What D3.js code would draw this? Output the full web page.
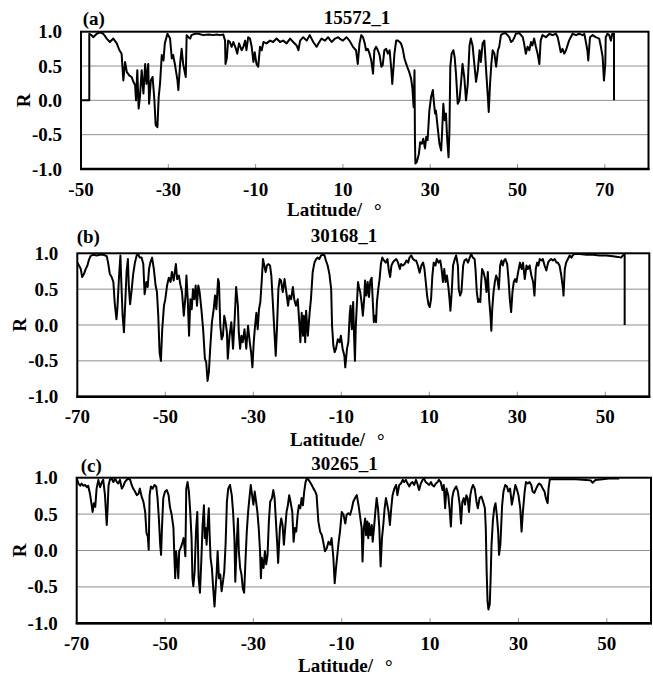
<!DOCTYPE html>
<html>
<head>
<meta charset="utf-8">
<script src="https://cdn.jsdelivr.net/npm/d3@7"></script>
<style>
body { margin: 0; background: #fff; }
text { font-family: "Liberation Serif", "Times New Roman", serif; font-weight: bold; font-size: 19px; fill: #000; }
</style>
</head>
<body>
<svg id="chart" width="653" height="677"></svg>
<script>

// [latitude, R]
var seriesA = [
    [-50,0],[-48.1,0],[-48.1,0.97],[-47.6,0.95],[-47.2,0.92],[-46.4,0.97],[-45.6,0.99],[-44.9,0.97],[-44.1,0.90],[-43.4,0.85],
    [-42.6,0.90],[-41.8,0.83],[-41.2,0.73],[-40.7,0.68],[-40.3,0.29],[-39.9,0.56],[-39.5,0.41],[-38.9,0.36],[-38.4,0.34],[-38.0,0.27],
    [-37.6,0.22],[-37.4,0.0],[-37.1,0.44],[-36.8,-0.12],[-36.5,0.05],[-36.1,0.44],[-35.7,0.10],[-35.3,0.53],[-35.0,0.24],[-34.6,0.53],
    [-34.4,-0.05],[-34.0,0.29],[-33.6,0.34],[-33.2,0.02],[-32.9,-0.36],[-32.5,-0.39],[-32.2,0.05],[-31.9,0.24],[-31.5,0.66],[-31.1,0.58],
    [-30.8,0.83],[-30.2,0.97],[-29.6,0.90],[-29.2,0.61],[-28.9,0.66],[-28.5,0.53],[-27.9,0.29],[-27.7,0.15],[-27.3,0.53],[-26.95,0.75],
    [-26.6,0.53],[-26.0,0.34],[-25.8,0.95],[-25.4,0.92],[-25.0,0.90],[-24.7,0.95],[-23.9,0.97],[-23.1,0.97],[-22.0,0.95],[-20.8,0.96],
    [-19.7,0.95],[-18.9,0.96],[-18.2,0.95],[-17.4,0.96],[-17.0,0.87],[-16.9,0.53],[-16.6,0.61],[-16.3,0.87],[-15.9,0.85],[-15.5,0.78],
    [-15.1,0.85],[-14.5,0.75],[-14.2,0.68],[-13.8,0.83],[-13.2,0.73],[-12.8,0.78],[-12.4,0.87],[-12.1,0.73],[-11.7,0.92],[-11.3,0.90],
    [-10.9,0.78],[-10.5,0.56],[-10.2,0.70],[-9.8,0.53],[-9.4,0.49],[-9.0,0.78],[-8.6,0.73],[-8.2,0.85],[-7.5,0.83],[-6.7,0.87],
    [-6.0,0.85],[-5.2,0.90],[-4.4,0.85],[-3.7,0.87],[-2.9,0.83],[-2.1,0.90],[-1.4,0.85],[-0.6,0.80],[-0.2,0.73],[0.2,0.87],
    [0.9,0.92],[1.7,0.87],[2.4,0.95],[3.2,0.85],[4.0,0.78],[4.4,0.83],[5.1,0.90],[5.9,0.87],[6.6,0.92],[7.4,0.85],
    [8.2,0.90],[8.9,0.92],[9.24,0.90],[10.0,0.87],[10.8,0.92],[11.5,0.87],[12.3,0.78],[13.0,0.73],[13.4,0.53],[13.8,0.83],
    [14.2,0.95],[14.6,0.92],[15.0,0.83],[15.3,0.73],[15.7,0.75],[16.1,0.68],[16.5,0.58],[16.9,0.39],[17.2,0.73],[17.6,0.78],
    [18.0,0.73],[18.4,0.66],[18.8,0.49],[19.1,0.51],[19.5,0.73],[19.9,0.75],[20.3,0.68],[20.7,0.73],[21.1,0.44],[21.3,0.24],
    [21.6,0.49],[21.8,0.68],[22.2,0.87],[22.6,0.87],[23.0,0.85],[23.3,0.83],[23.7,0.75],[24.1,0.61],[24.5,0.53],[24.9,0.46],
    [25.2,0.41],[25.6,0.32],[25.9,0.19],[26.2,-0.10],[26.4,0.44],[26.5,-0.58],[26.6,-0.92],[26.9,-0.90],[27.4,-0.78],[27.7,-0.61],
    [28.1,-0.63],[28.4,-0.56],[28.8,-0.70],[29.1,-0.53],[29.4,-0.58],[29.8,-0.15],[30.2,0.05],[30.6,0.15],[30.8,0.0],[31.1,-0.19],
    [31.3,-0.15],[31.7,-0.39],[32.1,-0.63],[32.5,-0.73],[32.7,-0.49],[33.0,-0.05],[33.3,-0.29],[33.6,-0.19],[33.9,-0.58],[34.2,-0.83],
    [34.4,-0.44],[34.6,0.49],[34.9,0.68],[35.3,0.73],[35.6,0.63],[35.9,0.39],[36.3,-0.05],[36.7,0.0],[37.1,0.29],[37.4,0.53],
    [37.8,0.34],[38.2,0.0],[38.6,0.24],[39.0,0.80],[39.3,0.90],[39.7,0.80],[40.1,0.53],[40.5,0.27],[40.9,0.44],[41.3,0.73],
    [41.6,0.56],[42.0,0.83],[42.4,0.87],[42.8,0.44],[43.2,0.05],[43.4,-0.17],[43.7,0.24],[44.0,0.53],[44.3,0.73],[44.7,0.68],
    [45.1,0.49],[45.5,0.73],[45.8,0.78],[46.2,0.95],[46.6,0.97],[47.3,0.98],[48.1,0.92],[48.5,0.85],[48.9,0.87],[49.3,0.92],
    [49.6,0.97],[50.4,0.98],[50.8,0.95],[51.2,0.92],[51.5,0.83],[51.9,0.68],[52.3,0.78],[52.7,0.73],[53.1,0.85],[53.4,0.80],
    [53.8,0.90],[54.2,0.78],[54.6,0.68],[55.0,0.53],[55.3,0.87],[55.7,0.95],[56.5,0.92],[57.3,0.97],[58.0,0.95],[58.8,0.97],
    [59.2,0.92],[59.5,0.83],[59.9,0.70],[60.3,0.75],[60.7,0.68],[61.1,0.73],[61.8,0.87],[62.6,0.97],[63.4,0.95],[64.1,0.97],
    [64.9,0.95],[65.3,0.97],[65.6,0.87],[66.0,0.73],[66.2,0.58],[66.6,0.92],[67.2,0.95],[67.9,0.92],[68.7,0.90],[69.1,0.78],
    [69.5,0.63],[69.8,0.29],[70.1,0.53],[70.2,0.92],[70.6,0.97],[71.0,0.95],[71.4,0.87],[71.7,0.97],[72.1,0.97],[72.1,0.0]
];

var seriesB = [
    [-70.0,0.87],[-69.6,0.83],[-69.2,0.78],[-68.9,0.67],[-68.5,0.71],[-68.1,0.78],[-67.7,0.83],[-67.4,0.90],[-67.0,0.96],[-66.4,0.98],
    [-65.6,0.97],[-64.9,0.98],[-64.1,0.98],[-63.3,0.96],[-63.0,0.87],[-62.6,0.71],[-62.2,0.67],[-61.8,0.60],[-61.5,0.31],[-61.1,0.08],
    [-60.9,0.22],[-60.5,0.69],[-60.2,0.97],[-60.0,0.60],[-59.7,0.13],[-59.4,-0.10],[-59.1,0.31],[-58.8,0.74],[-58.5,0.92],[-58.3,0.55],
    [-58.0,0.29],[-57.7,0.46],[-57.3,0.71],[-56.9,0.87],[-56.5,0.97],[-56.2,0.99],[-55.8,0.94],[-55.4,0.94],[-55.0,0.85],[-54.7,0.43],
    [-54.3,0.60],[-54.0,0.53],[-53.7,0.78],[-53.4,0.87],[-53.0,0.94],[-52.6,0.78],[-52.2,0.55],[-51.9,0.46],[-51.6,0.13],[-51.3,-0.38],
    [-51.0,-0.50],[-50.7,-0.06],[-50.3,0.27],[-50.0,0.36],[-49.6,0.55],[-49.2,0.66],[-48.8,0.60],[-48.5,0.74],[-48.1,0.62],[-47.6,0.85],
    [-47.3,0.64],[-46.9,0.69],[-46.6,0.57],[-46.2,0.46],[-45.8,0.13],[-45.4,0.41],[-45.2,0.69],[-44.9,0.36],[-44.6,-0.15],[-44.3,0.36],
    [-44.0,0.22],[-43.7,0.50],[-43.4,0.36],[-43.1,0.55],[-42.8,0.27],[-42.5,0.55],[-42.2,0.46],[-41.8,0.22],[-41.4,-0.06],[-41.0,-0.47],
    [-40.7,-0.52],[-40.4,-0.78],[-40.1,-0.66],[-39.8,-0.33],[-39.4,0.04],[-39.0,0.22],[-38.7,0.41],[-38.4,0.22],[-38.0,0.64],[-37.8,0.59],
    [-37.5,-0.01],[-37.2,-0.20],[-36.9,-0.15],[-36.6,0.13],[-36.3,0.04],[-36.0,-0.10],[-35.8,-0.47],[-35.4,-0.15],[-35.0,0.04],[-34.6,-0.33],
    [-34.2,0.13],[-33.9,0.53],[-33.5,0.27],[-33.3,-0.10],[-33.0,-0.33],[-32.7,-0.15],[-32.4,-0.24],[-32.0,-0.06],[-31.6,-0.33],[-31.2,-0.01],
    [-30.8,-0.24],[-30.5,-0.38],[-30.2,-0.59],[-29.9,-0.24],[-29.6,-0.01],[-29.3,0.17],[-29.0,-0.06],[-28.7,0.22],[-28.4,0.32],[-28.1,0.60],
    [-27.8,0.92],[-27.5,0.83],[-27.2,0.74],[-26.9,0.83],[-26.6,0.85],[-26.2,0.83],[-25.9,0.69],[-25.6,0.36],[-25.2,-0.10],[-24.9,-0.43],
    [-24.6,-0.01],[-24.3,0.50],[-24.0,0.64],[-23.7,0.62],[-23.3,0.46],[-22.9,0.64],[-22.5,0.46],[-22.1,0.27],[-21.8,0.41],[-21.4,0.36],
    [-21.0,0.53],[-20.7,0.36],[-20.3,0.27],[-19.9,0.36],[-19.5,-0.01],[-19.3,-0.24],[-19.0,0.17],[-18.7,-0.15],[-18.5,0.13],[-18.2,-0.24],
    [-18.0,0.20],[-17.6,-0.15],[-17.2,0.17],[-16.9,0.36],[-16.5,0.74],[-16.1,0.87],[-15.7,0.92],[-15.4,0.94],[-15.0,0.92],[-14.6,0.97],
    [-14.2,0.98],[-13.8,0.97],[-13.5,0.90],[-13.1,0.83],[-12.7,0.71],[-12.3,0.50],[-12.1,-0.01],[-11.8,-0.29],[-11.5,-0.38],[-11.2,-0.33],
    [-10.8,-0.20],[-10.4,-0.24],[-10.1,-0.15],[-9.7,-0.33],[-9.3,-0.43],[-9.1,-0.59],[-8.7,-0.33],[-8.4,-0.24],[-8.1,0.13],[-7.9,0.27],
    [-7.6,-0.06],[-7.3,0.32],[-7.1,-0.15],[-6.9,-0.50],[-6.7,-0.01],[-6.4,0.36],[-6.2,0.60],[-6.0,0.53],[-5.7,0.46],[-5.4,0.32],
    [-5.1,0.13],[-4.8,0.36],[-4.6,0.62],[-4.3,0.41],[-4.0,0.60],[-3.7,0.39],[-3.4,0.62],[-3.1,0.66],[-2.8,0.27],[-2.6,0.04],
    [-2.3,0.13],[-2.1,0.04],[-1.9,0.32],[-1.6,0.50],[-1.3,0.64],[-1.0,0.85],[-0.7,0.94],[-0.3,0.90],[0.1,0.87],[0.5,0.92],
    [0.8,0.76],[1.1,0.67],[1.4,0.83],[1.7,0.87],[2.1,0.90],[2.5,0.92],[2.9,0.87],[3.3,0.78],[3.6,0.85],[4.0,0.83],
    [4.4,0.85],[4.8,0.90],[5.2,0.87],[5.5,0.94],[5.9,0.97],[6.3,0.92],[6.7,0.90],[7.0,0.90],[7.4,0.83],[7.8,0.73],
    [8.2,0.83],[8.6,0.87],[8.9,0.78],[9.2,0.60],[9.5,0.41],[9.8,0.29],[10.1,0.25],[10.4,0.36],[10.7,0.69],[11.0,0.87],
    [11.4,0.83],[11.7,0.92],[12.1,0.87],[12.5,0.90],[12.8,0.78],[13.1,0.60],[13.4,0.78],[13.7,0.60],[14.0,0.69],[14.3,0.55],
    [14.6,0.36],[14.8,0.20],[15.1,0.46],[15.4,0.83],[15.8,0.92],[16.1,0.97],[16.5,0.83],[16.7,0.50],[17.0,0.41],[17.3,0.46],
    [17.7,0.83],[18.0,0.90],[18.4,0.92],[18.8,0.87],[19.2,0.94],[19.5,0.99],[19.9,0.94],[20.3,0.92],[20.5,0.78],[20.8,0.46],
    [21.1,0.32],[21.3,0.36],[21.6,0.32],[21.8,0.60],[22.0,0.78],[22.3,0.74],[22.7,0.64],[23.0,0.46],[23.3,0.74],[23.6,0.36],
    [23.9,0.13],[24.1,-0.08],[24.3,0.22],[24.6,0.46],[24.9,0.60],[25.2,0.69],[25.5,0.64],[25.8,0.50],[26.1,0.83],[26.4,0.90],
    [26.7,0.83],[27.0,0.90],[27.3,0.92],[27.7,0.85],[28.0,0.64],[28.3,0.36],[28.6,0.18],[28.9,0.46],[29.2,0.60],[29.5,0.64],
    [29.8,0.60],[30.2,0.74],[30.6,0.87],[31.0,0.78],[31.3,0.87],[31.7,0.64],[32.1,0.83],[32.4,0.78],[32.8,0.83],[33.2,0.69],
    [33.6,0.60],[33.9,0.41],[34.2,0.78],[34.5,0.87],[34.8,0.83],[35.1,0.92],[35.5,0.90],[35.8,0.92],[36.2,0.83],[36.6,0.76],
    [37.0,0.87],[37.3,0.90],[37.7,0.92],[38.1,0.90],[38.5,0.92],[38.9,0.87],[39.2,0.87],[39.6,0.83],[40.0,0.69],[40.4,0.50],
    [40.5,0.41],[40.8,0.78],[41.1,0.87],[41.5,0.92],[41.9,0.97],[42.3,0.94],[42.7,0.98],[43.0,0.99],[44.2,0.99],[45.7,0.98],
    [47.2,0.98],[48.7,0.97],[50.2,0.97],[51.7,0.96],[52.9,0.95],[53.6,0.94],[54.0,0.97],[54.4,0.99],[54.4,0.0]
];

var seriesC = [
    [-70.0,0.99],[-69.6,0.92],[-69.2,0.89],[-68.9,0.92],[-68.5,0.89],[-68.1,0.90],[-67.7,0.87],[-67.4,0.89],[-67.0,0.78],[-66.6,0.62],
    [-66.4,0.53],[-66.1,0.65],[-65.8,0.60],[-65.5,0.85],[-65.1,0.97],[-64.7,0.87],[-64.3,0.94],[-64.0,0.97],[-63.6,0.76],[-63.2,0.35],
    [-63.0,0.58],[-62.8,0.89],[-62.5,0.97],[-62.1,0.99],[-61.7,0.94],[-61.3,0.99],[-60.9,0.94],[-60.6,0.92],[-60.2,0.97],[-59.8,0.85],
    [-59.4,0.89],[-59.1,0.94],[-58.7,0.97],[-58.3,0.99],[-57.9,0.97],[-57.5,0.89],[-57.2,0.85],[-56.8,0.81],[-56.4,0.76],[-56.0,0.78],
    [-55.7,0.85],[-55.3,0.74],[-54.9,0.67],[-54.5,0.53],[-54.2,0.24],[-53.9,0.19],[-53.7,0.01],[-53.5,0.76],[-53.2,0.88],[-52.8,0.85],
    [-52.4,0.90],[-52.0,0.88],[-51.7,0.72],[-51.4,0.44],[-51.1,0.08],[-50.9,-0.06],[-50.7,0.31],[-50.4,0.72],[-50.0,0.81],[-49.6,0.83],
    [-49.2,0.76],[-48.9,0.60],[-48.5,0.49],[-48.1,0.31],[-47.9,-0.06],[-47.7,-0.38],[-47.5,-0.01],[-47.2,-0.19],[-47.0,-0.38],[-46.8,-0.01],
    [-46.5,0.03],[-46.2,0.08],[-45.8,0.17],[-45.6,0.05],[-45.4,-0.08],[-45.2,0.85],[-44.9,0.94],[-44.6,0.81],[-44.3,0.53],[-44.0,0.17],
    [-43.8,-0.38],[-43.6,-0.49],[-43.3,-0.29],[-43.0,0.26],[-42.7,0.53],[-42.4,-0.38],[-42.1,-0.58],[-41.8,-0.15],[-41.5,0.35],[-41.2,0.62],
    [-41.0,0.17],[-40.8,0.31],[-40.6,0.08],[-40.3,0.40],[-40.1,0.58],[-39.9,0.21],[-39.7,-0.10],[-39.4,-0.24],[-39.1,-0.52],[-38.8,-0.77],
    [-38.5,-0.47],[-38.3,-0.29],[-38.1,-0.01],[-37.8,-0.38],[-37.5,-0.33],[-37.2,-0.56],[-36.9,-0.43],[-36.6,-0.29],[-36.3,0.08],[-36.0,0.67],
    [-35.7,0.85],[-35.3,0.90],[-34.9,0.76],[-34.6,0.53],[-34.3,0.17],[-34.1,-0.43],[-33.8,0.08],[-33.5,0.44],[-33.3,-0.01],[-33.0,-0.24],
    [-32.7,-0.33],[-32.4,-0.52],[-32.1,-0.58],[-31.8,-0.15],[-31.5,0.26],[-31.2,0.53],[-30.9,0.72],[-30.6,0.90],[-30.3,0.76],[-30.0,0.63],
    [-29.7,0.81],[-29.4,0.67],[-29.1,0.53],[-28.8,0.31],[-28.5,-0.01],[-28.3,-0.38],[-28.1,-0.10],[-27.7,-0.24],[-27.4,-0.01],[-27.1,-0.19],
    [-26.8,-0.06],[-26.5,0.40],[-26.2,0.67],[-25.8,0.72],[-25.5,0.83],[-25.2,0.72],[-24.9,0.40],[-24.6,0.08],[-24.4,-0.17],[-24.2,0.08],
    [-24.0,0.31],[-23.7,0.44],[-23.4,0.35],[-23.1,0.08],[-22.8,0.31],[-22.5,0.53],[-22.2,0.62],[-21.9,0.76],[-21.6,0.67],[-21.2,0.53],
    [-20.9,0.12],[-20.6,0.31],[-20.3,0.26],[-20.0,0.49],[-19.7,0.62],[-19.4,0.58],[-19.1,0.72],[-18.8,0.62],[-18.5,0.81],[-18.2,0.94],
    [-17.9,0.99],[-17.5,0.97],[-17.2,0.94],[-16.8,0.90],[-16.4,0.85],[-16.0,0.81],[-15.7,0.76],[-15.3,0.40],[-14.9,0.26],[-14.5,0.21],
    [-14.2,0.12],[-13.8,-0.01],[-13.4,0.03],[-13.0,0.12],[-12.6,0.08],[-12.3,0.17],[-11.9,-0.10],[-11.6,-0.45],[-11.3,-0.24],[-11.0,-0.06],
    [-10.7,0.12],[-10.4,0.26],[-10.0,0.53],[-9.6,0.49],[-9.2,0.37],[-8.9,0.49],[-8.5,0.51],[-8.1,0.49],[-7.7,0.58],[-7.4,0.67],
    [-7.0,0.72],[-6.6,0.76],[-6.2,0.62],[-5.9,0.49],[-5.5,0.31],[-5.3,-0.15],[-5.0,0.31],[-4.7,0.44],[-4.5,0.21],[-4.2,0.40],
    [-4.0,0.17],[-3.8,0.37],[-3.5,0.21],[-3.2,0.35],[-3.0,0.12],[-2.7,0.31],[-2.4,0.53],[-2.1,0.72],[-1.8,0.58],[-1.5,0.31],
    [-1.2,-0.22],[-0.9,0.17],[-0.6,0.35],[-0.3,0.58],[0.0,0.72],[0.3,0.63],[0.6,0.53],[0.9,0.35],[1.2,0.58],[1.5,0.76],
    [1.9,0.85],[2.3,0.90],[2.6,0.76],[3.0,0.90],[3.4,0.92],[3.8,0.97],[4.1,0.94],[4.5,0.97],[4.9,0.92],[5.3,0.88],
    [5.6,0.92],[6.0,0.94],[6.4,0.90],[6.8,0.97],[7.1,0.92],[7.5,0.83],[7.9,0.92],[8.3,0.97],[8.6,0.99],[9.0,0.94],
    [9.4,0.92],[9.8,0.90],[10.2,0.94],[10.5,0.90],[10.9,0.88],[11.3,0.92],[11.7,0.94],[12.0,0.97],[12.4,0.94],[12.8,0.83],
    [13.1,0.90],[13.4,0.58],[13.7,0.85],[14.1,0.76],[14.4,0.58],[14.7,0.33],[15.0,0.72],[15.3,0.81],[15.6,0.85],[15.9,0.88],
    [16.3,0.81],[16.7,0.63],[17.0,0.37],[17.3,0.67],[17.6,0.72],[17.9,0.63],[18.2,0.76],[18.5,0.72],[18.8,0.53],[19.1,0.76],
    [19.4,0.85],[19.7,0.90],[20.1,0.85],[20.5,0.67],[20.8,0.58],[21.2,0.72],[21.6,0.74],[22.0,0.67],[22.4,0.58],[22.6,0.31],
    [22.8,-0.29],[23.0,-0.70],[23.2,-0.81],[23.5,-0.74],[23.7,-0.38],[23.9,0.08],[24.2,0.40],[24.5,0.58],[24.8,0.65],[25.1,0.49],
    [25.4,0.26],[25.6,-0.06],[25.9,0.08],[26.1,0.35],[26.3,0.62],[26.6,0.81],[27.0,0.90],[27.4,0.88],[27.7,0.81],[28.1,0.85],
    [28.5,0.63],[28.9,0.76],[29.3,0.90],[29.6,0.85],[30.0,0.76],[30.4,0.58],[30.7,0.26],[31.0,0.53],[31.4,0.81],[31.7,0.94],
    [32.1,0.92],[32.5,0.94],[32.9,0.90],[33.2,0.81],[33.6,0.79],[34.0,0.85],[34.4,0.90],[34.7,0.92],[35.1,0.90],[35.5,0.85],
    [35.9,0.81],[36.2,0.72],[36.6,0.65],[36.8,0.85],[37.1,0.98],[38.5,0.98],[40.8,0.98],[43.0,0.98],[45.3,0.97],[46.4,0.96],
    [46.8,0.93],[47.1,0.95],[47.5,0.97],[49.0,0.98],[50.5,0.99],[52.8,0.99]
];

var panelTags = ['(a)', '(b)', '(c)'];
var panelTitles = ['15572_1', '30168_1', '30265_1'];
var xDomainA = [-50, 80];
var xDomainBC = [-70, 60];
var xTicksA = [-50, -30, -10, 10, 30, 50, 70];
var xTicksBC = [-70, -50, -30, -10, 10, 30, 50];
var yTicks = [1.0, 0.5, 0.0, -0.5, -1.0];
var gridValues = [0.5, 0.0, -0.5];
var xTitle = 'Latitude/';
var yTitle = 'R';

var svg = d3.select('#chart');

var draw = {

    panels : [
        { data: seriesA, dom: xDomainA, ticks: xTicksA, box: {l: 81, r: 648.5, t: 31.7, b: 169},
          tag: [82.7, 25], title: [357, 23.5], xt: [287, 216] },
        { data: seriesB, dom: xDomainBC, ticks: xTicksBC, box: {l: 77.3, r: 649.3, t: 253.3, b: 396.7},
          tag: [76.7, 242.5], title: [344, 242], xt: [290, 445.5] },
        { data: seriesC, dom: xDomainBC, ticks: xTicksBC, box: {l: 76.7, r: 651, t: 477.7, b: 623.3},
          tag: [80.7, 472], title: [344.5, 470], xt: [298, 672] }
    ],

    all : function() {
        this.panels.forEach(function(p, i) { draw.panel(p, i); });
    },

    panel : function(p, i) {

        var b = p.box;
        var x = d3.scaleLinear().domain(p.dom).range([b.l, b.r]);
        var y = d3.scaleLinear().domain([-1, 1]).range([b.b, b.t]);
        var g = svg.append('g');

        g.append('clipPath').attr('id', 'clip' + i)
            .append('rect').attr('x', b.l).attr('y', b.t - 1)
            .attr('width', b.r - b.l).attr('height', b.b - b.t + 2);

        g.selectAll('line.grid').data(gridValues).enter().append('line')
            .attr('class', 'grid')
            .attr('x1', b.l).attr('x2', b.r)
            .attr('y1', function(d) { return y(d); }).attr('y2', function(d) { return y(d); })
            .attr('stroke', '#8f8f8f').attr('stroke-width', 1);

        g.selectAll('line.tick').data(p.ticks).enter().append('line')
            .attr('class', 'tick')
            .attr('x1', function(d) { return x(d); }).attr('x2', function(d) { return x(d); })
            .attr('y1', b.b).attr('y2', b.b - 5)
            .attr('stroke', '#8f8f8f').attr('stroke-width', 1);

        var line = d3.line().x(function(d) { return x(d[0]); }).y(function(d) { return y(d[1]); });

        g.append('path').datum(p.data)
            .attr('d', line)
            .attr('clip-path', 'url(#clip' + i + ')')
            .attr('fill', 'none').attr('stroke', '#000')
            .attr('stroke-width', 2).attr('stroke-linejoin', 'round');

        g.append('rect')
            .attr('x', b.l).attr('y', b.t).attr('width', b.r - b.l).attr('height', b.b - b.t)
            .attr('fill', 'none').attr('stroke', '#000').attr('stroke-width', 2);

        g.append('line')
            .attr('x1', b.l - 1).attr('x2', b.r + 1).attr('y1', b.b).attr('y2', b.b)
            .attr('stroke', '#000').attr('stroke-width', 2.6);

        // tick labels
        g.selectAll('text.ylab').data(yTicks).enter().append('text')
            .attr('class', 'ylab')
            .attr('x', b.l - 19).attr('y', function(d) { return y(d) + 6.5; })
            .attr('text-anchor', 'end')
            .text(function(d) { return d3.format('.1f')(d).replace('−', '-'); });

        g.selectAll('text.xlab').data(p.ticks).enter().append('text')
            .attr('class', 'xlab')
            .attr('x', function(d) { return x(d); }).attr('y', b.b + 26.5)
            .attr('text-anchor', 'middle')
            .text(function(d) { return String(d); });

        // titles
        g.append('text')
            .attr('transform', 'translate(' + (b.l - 51) + ',' + ((b.t + b.b) / 2) + ') rotate(-90)')
            .attr('text-anchor', 'middle')
            .text(yTitle);

        var xt = g.append('text').attr('x', p.xt[0]).attr('y', p.xt[1]).text(xTitle);
        xt.append('tspan').attr('x', p.xt[0] + 87).attr('dy', 1).text('°');

        g.append('text').attr('x', p.tag[0]).attr('y', p.tag[1]).text(panelTags[i]);
        g.append('text').attr('x', p.title[0]).attr('y', p.title[1])
            .attr('text-anchor', 'middle').text(panelTitles[i]);
    }
};

draw.all();
</script>
</body>
</html>
